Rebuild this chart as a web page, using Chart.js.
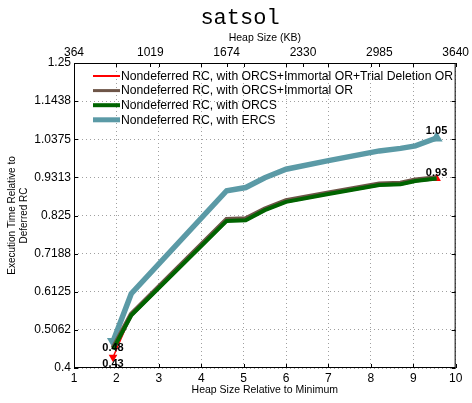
<!DOCTYPE html>
<html>
<head>
<meta charset="utf-8">
<script src="https://cdn.jsdelivr.net/npm/chart.js"></script>
<style>
  html, body { margin: 0; padding: 0; background: #fff; }
  #wrap { width: 472px; height: 403px; }
</style>
</head>
<body>
<div id="wrap"><canvas id="chart" width="472" height="403"></canvas></div>
<script>
// data
const heapRatio = [1.92, 2.35, 4.6, 5.05, 5.5, 6.0, 7.0, 8.2, 8.7, 9.05, 9.55];
const trialDeletion = [0.43, 0.547, 0.81, 0.812, 0.84, 0.863, 0.885, 0.91, 0.912, 0.921, 0.928];
const immortalOR = [0.455, 0.55, 0.814, 0.816, 0.843, 0.866, 0.888, 0.913, 0.915, 0.924, 0.93];
const orcs = [0.452, 0.547, 0.81, 0.812, 0.84, 0.863, 0.885, 0.91, 0.912, 0.921, 0.928];
const ercs = [0.474, 0.607, 0.894, 0.903, 0.93, 0.954, 0.978, 1.005, 1.012, 1.019, 1.041];

const seriesNames = [
  'Nondeferred RC, with ORCS+Immortal OR+Trial Deletion OR',
  'Nondeferred RC, with ORCS+Immortal OR',
  'Nondeferred RC, with ORCS',
  'Nondeferred RC, with ERCS'
];
const xTicks = [1, 2, 3, 4, 5, 6, 7, 8, 9, 10];
const topTicks = [1, 2.8, 4.6, 6.4, 8.2, 10];
const topTickLabels = ['364', '1019', '1674', '2330', '2985', '3640'];
const yTicks = [0.4, 0.50625, 0.6125, 0.71875, 0.825, 0.93125, 1.0375, 1.14375, 1.25];
const yTickLabels = ['0.4', '0.5062', '0.6125', '0.7188', '0.825', '0.9313', '1.0375', '1.1438', '1.25'];

const FONT = "'Liberation Sans', Arial, sans-serif";

function pts(ys) {
  return ys.map((y, i) => ({ x: heapRatio[i], y }));
}
// triangle markers only at the ends
function endRadius(r, n) {
  return Array.from({ length: n }, (_, i) => (i === 0 || i === n - 1) ? r : 0);
}
function endRotation(n) {
  return Array.from({ length: n }, (_, i) => i === 0 ? 180 : 0);
}

const n = heapRatio.length;
const datasets = [
  {
    label: seriesNames[0], data: pts(trialDeletion),
    borderColor: '#ff0000', backgroundColor: '#ff0000', borderWidth: 1.5,
    pointStyle: 'triangle', pointRadius: endRadius(5, n), pointRotation: endRotation(n),
    pointBorderWidth: 0, order: 3, legendWidth: 2
  },
  {
    label: seriesNames[1], data: pts(immortalOR),
    borderColor: '#6e5548', borderWidth: 5, pointRadius: 0, order: 2, legendWidth: 3
  },
  {
    label: seriesNames[2], data: pts(orcs),
    borderColor: '#006400', borderWidth: 4, pointRadius: 0, order: 1, legendWidth: 4
  },
  {
    label: seriesNames[3], data: pts(ercs),
    borderColor: '#5b9aa6', backgroundColor: '#5b9aa6', borderWidth: 5.5,
    pointStyle: 'triangle', pointRadius: endRadius(7, n), pointRotation: endRotation(n),
    pointBorderWidth: 0, order: 4, legendWidth: 5
  }
];

// value labels at the ends of the marked series
const endLabels = [
  { ds: 3, idx: 0, text: '0.48', dy: 7 },
  { ds: 0, idx: 0, text: '0.43', dy: 7 },
  { ds: 3, idx: n - 1, text: '1.05', dy: -7 },
  { ds: 0, idx: n - 1, text: '0.93', dy: -6 }
];

const decor = {
  id: 'decor',
  afterDatasetsDraw(chart) {
    const { ctx, chartArea: a, scales } = chart;
    ctx.save();
    // frame
    ctx.strokeStyle = '#000';
    ctx.lineWidth = 1;
    ctx.strokeRect(a.left + 0.5, a.top + 0.5, a.right - a.left - 1, a.bottom - a.top - 1);
    // inward tick marks
    ctx.beginPath();
    xTicks.forEach(v => {
      const px = Math.round(scales.x.getPixelForValue(v)) + 0.5;
      ctx.moveTo(px, a.bottom); ctx.lineTo(px, a.bottom - 4);
      ctx.moveTo(px, a.top); ctx.lineTo(px, a.top + 4);
    });
    topTicks.forEach(v => {
      const px = Math.round(scales.x2.getPixelForValue(v)) + 0.5;
      ctx.moveTo(px, a.top); ctx.lineTo(px, a.top + 4);
    });
    yTicks.forEach(v => {
      const py = Math.round(scales.y.getPixelForValue(v)) + 0.5;
      ctx.moveTo(a.left, py); ctx.lineTo(a.left + 4, py);
      ctx.moveTo(a.right, py); ctx.lineTo(a.right - 4, py);
    });
    ctx.stroke();

    // end value labels
    ctx.fillStyle = '#000';
    ctx.font = 'bold 11px ' + FONT;
    ctx.textAlign = 'center';
    ctx.textBaseline = 'middle';
    endLabels.forEach(l => {
      const p = chart.data.datasets[l.ds].data[l.idx];
      const px = scales.x.getPixelForValue(p.x);
      const py = scales.y.getPixelForValue(p.y);
      ctx.fillText(l.text, px, py + l.dy);
    });

    // legend in the upper left of the plot
    ctx.font = '12.2px ' + FONT;
    ctx.textAlign = 'left';
    const x0 = a.left + 19, x1 = a.left + 46;
    chart.data.datasets.forEach((d, i) => {
      const y = a.top + 13 + i * 14.6;
      ctx.strokeStyle = d.borderColor;
      ctx.lineWidth = d.legendWidth;
      ctx.beginPath();
      ctx.moveTo(x0, y); ctx.lineTo(x1, y);
      ctx.stroke();
      ctx.fillStyle = '#000';
      ctx.fillText(d.label, x1 + 1, y + 0.5);
    });

    // chart title
    ctx.font = '22px "Liberation Mono", "Courier New", monospace';
    ctx.textAlign = 'center';
    ctx.fillText('satsol', 240, 18);
    ctx.restore();
  }
};

new Chart(document.getElementById('chart').getContext('2d'), {
  type: 'line',
  data: { datasets },
  plugins: [decor],
  options: {
    responsive: false,
    animation: false,
    layout: { padding: { left: 0, right: 14, top: 0, bottom: 0 } },
    plugins: { legend: { display: false }, tooltip: { enabled: false } },
    scales: {
      x: {
        type: 'linear', position: 'bottom', min: 1, max: 10,
        afterBuildTicks: s => { s.ticks = xTicks.map(v => ({ value: v })); },
        afterFit: s => { s.height = 35; },
        ticks: { color: '#000', font: { family: FONT, size: 12 }, padding: 3, maxRotation: 0 },
        grid: { color: '#a0a0a0', drawTicks: false, lineWidth: 1 },
        border: { display: false, dash: [1, 3] },
        title: { display: true, text: 'Heap Size Relative to Minimum', color: '#000',
                 font: { family: FONT, size: 10.5 }, padding: { top: 0, bottom: 7 } }
      },
      x2: {
        type: 'linear', axis: 'x', position: 'top', min: 1, max: 10,
        afterBuildTicks: s => { s.ticks = topTicks.map(v => ({ value: v })); },
        afterFit: s => { s.height = 63; },
        ticks: {
          color: '#000', font: { family: FONT, size: 12 }, padding: 3, maxRotation: 0,
          callback: (v, i) => topTickLabels[i]
        },
        grid: { display: false, drawTicks: false },
        border: { display: false },
        title: { display: true, text: 'Heap Size (KB)', color: '#000',
                 font: { family: FONT, size: 10.5 }, padding: { top: 32, bottom: 0 } }
      },
      y: {
        type: 'linear', position: 'left', min: 0.4, max: 1.25,
        afterBuildTicks: s => { s.ticks = yTicks.map(v => ({ value: v })); },
        afterFit: s => { s.width = 74; },
        ticks: {
          color: '#000', font: { family: FONT, size: 12 }, padding: 3,
          callback: (v, i) => yTickLabels[i]
        },
        grid: { color: '#a0a0a0', drawTicks: false, lineWidth: 1 },
        border: { display: false, dash: [1, 3] },
        title: { display: true, text: ['Execution Time Relative to', 'Deferred RC'], color: '#000',
                 font: { family: FONT, size: 10 }, padding: { top: 6, bottom: 0 } }
      }
    }
  }
});
</script>
</body>
</html>
